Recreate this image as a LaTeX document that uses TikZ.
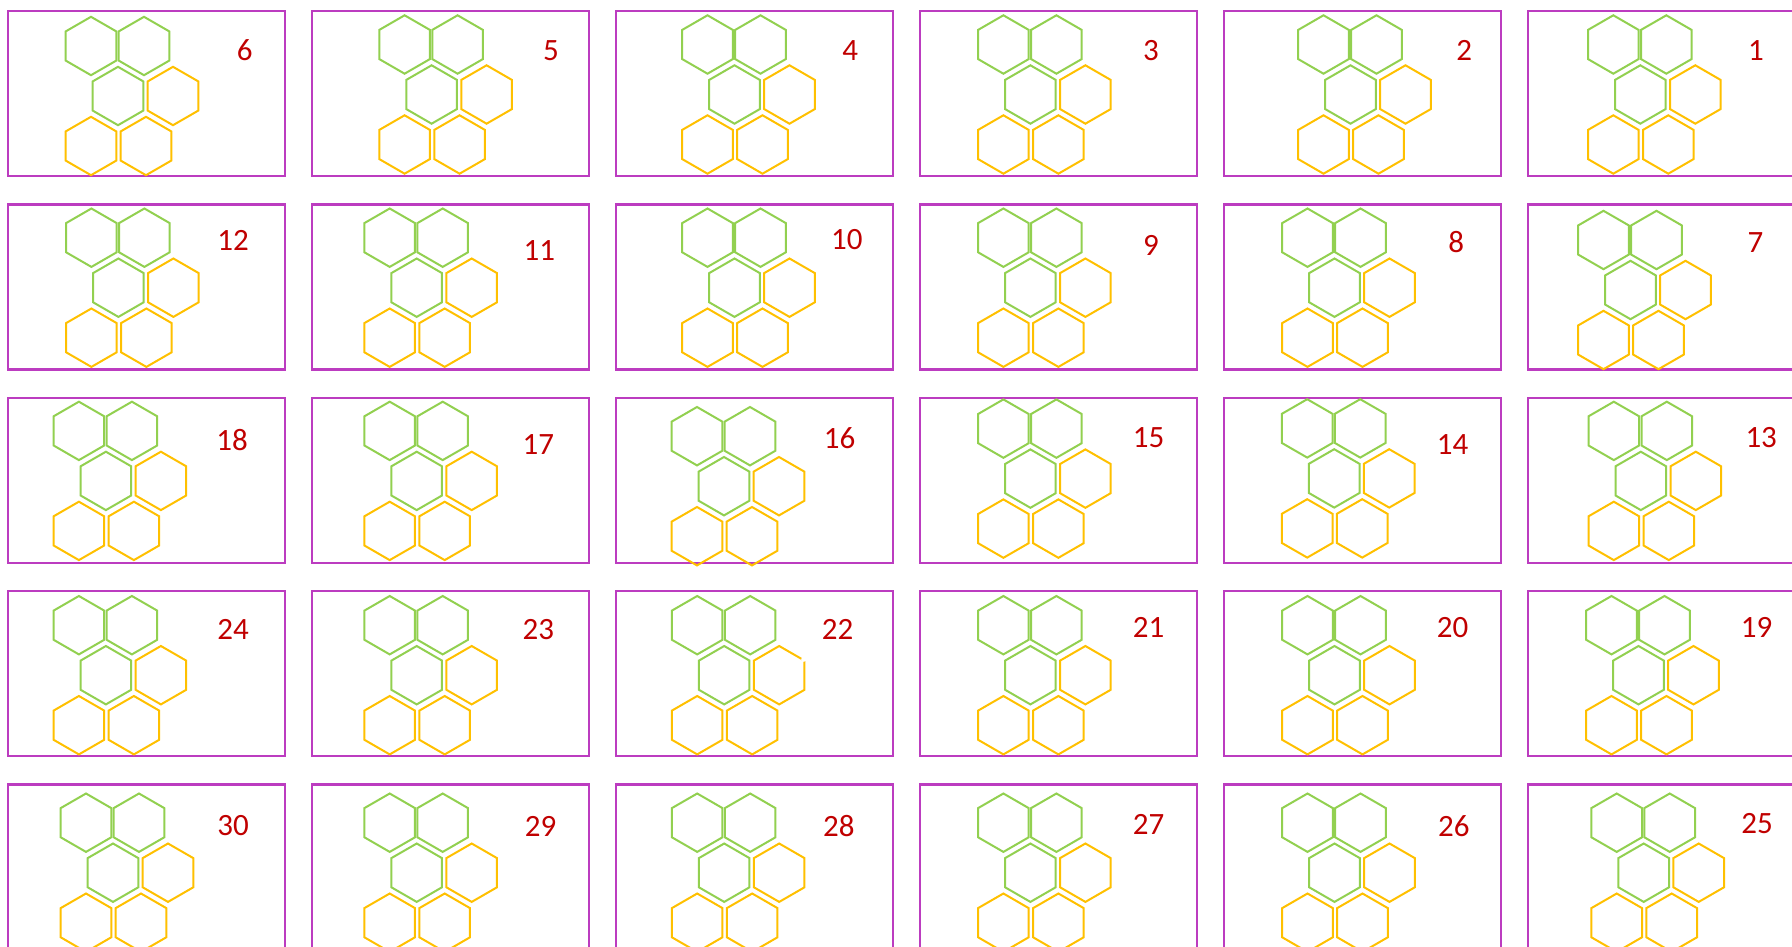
\documentclass[tikz,border=0pt]{standalone}
\usepackage{fontspec}
\setmainfont{Carlito}
\definecolor{boxpurple}{HTML}{BC3CC0}
\definecolor{hexgreen}{HTML}{92D050}
\definecolor{hexorange}{HTML}{FFC000}
\definecolor{numred}{HTML}{C00000}
\tikzset{
  cellbox/.style={draw=boxpurple, line width=2.4pt},
  ghex/.style={draw=hexgreen, line width=2pt, line join=miter},
  ohex/.style={draw=hexorange, line width=2pt, line join=miter},
  numlabel/.style={text=numred, font=\fontsize{31}{31}\selectfont, inner sep=0pt},
  hexa/.pic={\path[pic actions] (90:29.2) -- (30:29.2) -- (-30:29.2) -- (-90:29.2) -- (-150:29.2) -- (150:29.2) -- cycle;}
}
\newcommand\hexcluster[2]{%
  \begin{scope}[shift={(#1,#2)}]
    \pic[ghex] at (0,0) {hexa};
    \pic[ghex] at (53,0) {hexa};
    \pic[ghex] at (27,50) {hexa};
    \pic[ohex] at (82,50) {hexa};
    \pic[ohex] at (0,100) {hexa};
    \pic[ohex] at (55,100) {hexa};
  \end{scope}}
\begin{document}
\begin{tikzpicture}[x=1pt,y=-1pt]
\useasboundingbox (0,0) rectangle (1792,947);
\clip (0,0) rectangle (1792,947);
\fill[white] (0,0) rectangle (1792,947);
% boxes
\foreach \c in {0,...,5}{
  \foreach \r in {0,...,4}{
    \draw[cellbox] ({8+304*\c},{11+193.4*\r}) rectangle ++(277,165);
  }
}
% row 1
\hexcluster{91}{46}
\hexcluster{404.6}{44.5}
\hexcluster{707.5}{44.5}
\hexcluster{1003.4}{44.5}
\hexcluster{1323.5}{44.5}
\hexcluster{1613.3}{44.5}
\node[numlabel] (n6) at (244.8,50.3) {6};
\node[numlabel] (n5) at (550.9,50.3) {5};
\node[numlabel] (n4) at (850.3,50.3) {4};
\node[numlabel] (n3) at (1150.9,50.3) {3};
\node[numlabel] (n2) at (1464.1,50.3) {2};
\node[numlabel] (n1) at (1756,50.3) {1};
% row 2
\hexcluster{91.4}{237.7}
\hexcluster{389.7}{237.7}
\hexcluster{707.5}{237.7}
\hexcluster{1003.4}{237.7}
\hexcluster{1307.5}{237.7}
\hexcluster{1603.5}{240}
\node[numlabel] (n12) at (233.1,240) {12};
\node[numlabel] (n11) at (539.4,250.3) {11};
\node[numlabel] (n10) at (846.9,240) {10};
\node[numlabel] (n9) at (1150.9,245.7) {9};
\node[numlabel] (n8) at (1456.1,242.3) {8};
\node[numlabel] (n7) at (1755.4,242.3) {7};
% row 3
\hexcluster{78.9}{430.9}
\hexcluster{389.7}{430.9}
\hexcluster{697}{436.2}
\hexcluster{1003.4}{428.6}
\hexcluster{1307.2}{428.4}
\hexcluster{1613.8}{430.9}
\node[numlabel] (n18) at (232,440) {18};
\node[numlabel] (n17) at (538.3,444.6) {17};
\node[numlabel] (n16) at (839.5,438.5) {16};
\node[numlabel] (n15) at (1148.6,437.7) {15};
\node[numlabel] (n14) at (1452.5,444.2) {14};
\node[numlabel] (n13) at (1761.2,437.7) {13};
% row 4
\hexcluster{78.9}{625.2}
\hexcluster{389.7}{625.2}
\hexcluster{697.2}{625.2}
\hexcluster{1003.4}{625.2}
\hexcluster{1307.5}{625.2}
\hexcluster{1611.5}{625.2}
\fill[white] (803.8,659.2) circle (2.6);
\node[numlabel] (n24) at (233.1,629.7) {24};
\node[numlabel] (n23) at (538.3,629.7) {23};
\node[numlabel] (n22) at (837.7,629.7) {22};
\node[numlabel] (n21) at (1148.6,627.5) {21};
\node[numlabel] (n20) at (1452.6,627.5) {20};
\node[numlabel] (n19) at (1756.5,627.5) {19};
% row 5
\hexcluster{86}{822.7}
\hexcluster{389.7}{822.7}
\hexcluster{697.2}{822.7}
\hexcluster{1003.4}{822.7}
\hexcluster{1307.5}{822.7}
\hexcluster{1616.7}{822.7}
\node[numlabel] (n30) at (233.2,826) {30};
\node[numlabel] (n29) at (540.6,826.3) {29};
\node[numlabel] (n28) at (838.9,826.3) {28};
\node[numlabel] (n27) at (1148.6,824) {27};
\node[numlabel] (n26) at (1453.8,826.3) {26};
\node[numlabel] (n25) at (1757,824) {25};
\end{tikzpicture}
\end{document}
